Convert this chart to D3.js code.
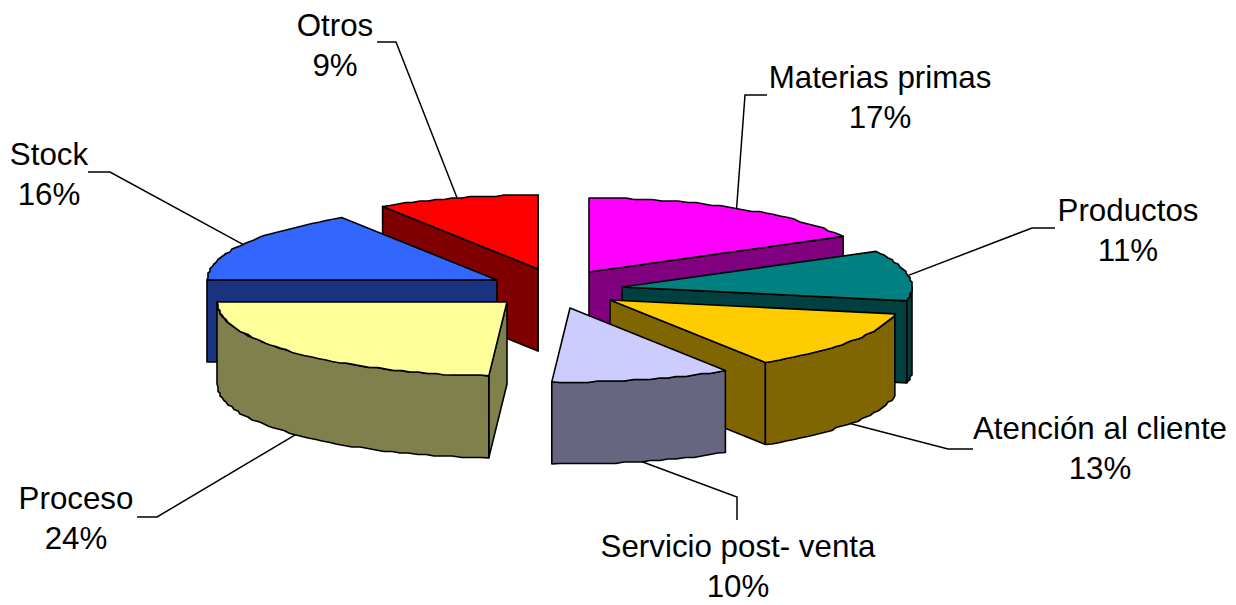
<!DOCTYPE html>
<html><head><meta charset="utf-8">
<script src="https://cdn.jsdelivr.net/npm/d3@7/dist/d3.min.js"></script>
<style>html,body{margin:0;padding:0;background:#fff}svg{display:block}text{font-family:"Liberation Sans",Arial,sans-serif;font-size:31.3px;fill:#000}</style>
</head><body><svg id="c" width="1236" height="605"></svg>
<script>
const categories = ["Materias primas","Productos","Atención al cliente","Servicio post- venta","Proceso","Stock","Otros"];
const values = [17,11,13,10,24,16,9];
const topColors = ["#FF00FF","#008080","#FFCC00","#CCCCFF","#FFFF99","#3366FF","#FF0000"];
const wallColors = ["#800080","#004040","#806600","#666680","#80804D","#1A3380","#800000"];
// layout only
const apexX = [589,622,610,570,507,497,538];
const apexY = [272,287,300,308,302,280,269];
const drawOrder = [6,0,5,1,2,3,4];
const labelX = [880,1128,1100,738,76,49,335];
const labelY = [77,210,428,546,498,154,25];
const elbow = [[745,95,767,95],[1032,228,1055,228],[948,449,973,449],[737,497,737,520],[157,517,137,517],[110,172,88,172],[396,42,377,42]];
const RX = 290, RY = 74, DEPTH = 82;

const svg = d3.select("#c");
const arcs = d3.pie().sort(null).value(d=>d)(values);
const sx = d3.scaleLinear().domain([-1,1]).range([-RX,RX]);
const sy = d3.scaleLinear().domain([-1,1]).range([-RY,RY]);
const rim = (i,a,dz=0)=>[apexX[i]+sx(Math.sin(a)), apexY[i]+sy(-Math.cos(a))+dz];
const STEP = 1.8*Math.PI/180;
function rimPts(i,a0,a1,dz){
  const pts=[rim(i,a0,dz)];
  const n=Math.max(1,Math.ceil((a1-a0)/STEP));
  for(let k=1;k<n;k++){
    const p=rim(i,a0+(a1-a0)*k/n,dz);
    // the reference arcs are coarse metafile staircases
    pts.push([Math.round(p[0]/2)*2,Math.round(p[1]/1.5)*1.5]);
  }
  pts.push(rim(i,a1,dz));
  return pts;
}
const line=d3.line();
const TAU=2*Math.PI;
const poly=(pts,fill)=>svg.append("path").attr("d",line(pts)+"Z").attr("fill",fill)
  .attr("stroke","#000").attr("stroke-width",1.6).attr("stroke-linejoin","round");

// leaders
arcs.forEach((d,i)=>{
  const m=(d.startAngle+d.endAngle)/2;
  const front=Math.cos(m)<0;
  const e=rim(i,m,front?DEPTH:0);
  const el=elbow[i];
  svg.append("path").attr("fill","none").attr("stroke","#000").attr("stroke-width",1.5)
    .attr("d",line([[el[2],el[3]],[el[0],el[1]],e]));
});

drawOrder.forEach(i=>{
  const d=arcs[i], a0=d.startAngle, a1=d.endAngle;
  const apex=[apexX[i],apexY[i]];
  const wall=a=>{const r=rim(i,a);poly([apex,r,[r[0],r[1]+DEPTH],[apex[0],apex[1]+DEPTH]],wallColors[i]);};
  if(Math.sin(a0)<0) wall(a0);
  if(Math.sin(a1)>0) wall(a1);
  const b0=Math.max(a0,TAU/4), b1=Math.min(a1,3*TAU/4);
  if(b1>b0){
    poly(rimPts(i,b0,b1,0).concat(rimPts(i,b0,b1,DEPTH).reverse()),wallColors[i]);
  }
  poly([apex].concat(rimPts(i,a0,a1,0)),topColors[i]);
});

// labels
arcs.forEach((d,i)=>{
  const t=svg.append("text").attr("text-anchor","middle").attr("x",labelX[i]).attr("y",labelY[i]);
  t.append("tspan").attr("x",labelX[i]).attr("dy","0.36em").text(categories[i]);
  t.append("tspan").attr("x",labelX[i]).attr("dy",40).text(values[i]+"%");
});
</script></body></html>
